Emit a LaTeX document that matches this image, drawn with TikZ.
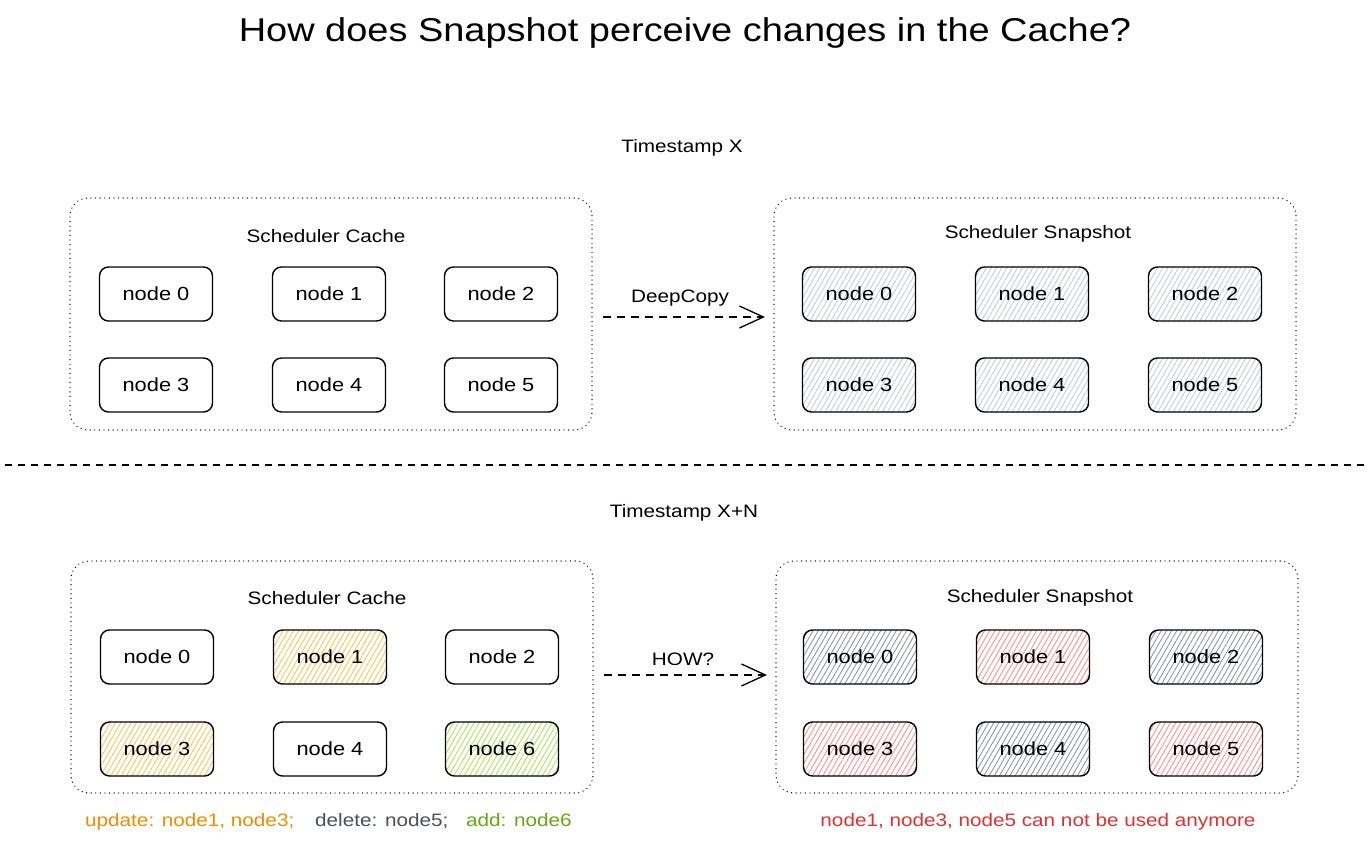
\documentclass[tikz,border=0pt]{standalone}
\usepackage{fontspec}
\setmainfont[FakeStretch=1.15]{Liberation Sans}
\usetikzlibrary{arrows.meta,patterns.meta}
\definecolor{hgrayL}{HTML}{C4C9CE}
\definecolor{hgrayD}{HTML}{8A8F94}
\definecolor{hred}{HTML}{FF8787}
\definecolor{horange}{HTML}{FFC04A}
\definecolor{hgreen}{HTML}{A9E34B}
\definecolor{torange}{HTML}{F08C00}
\definecolor{tgray}{HTML}{495057}
\definecolor{tgreen}{HTML}{66A80F}
\definecolor{tred}{HTML}{E03131}
\begin{document}
\begin{tikzpicture}[x=1pt,y=-1pt,
  nbox/.style={draw=black, line width=1.4pt, rounded corners=9pt,
    minimum width=113pt, minimum height=54pt, inner sep=0pt,
    font=\fontsize{19}{21}\selectfont},
  hatch/.style={pattern={Lines[angle=60,distance=4.5pt,line width=0.8pt]}, pattern color=#1},
  container/.style={draw=black, line width=1.3pt, rounded corners=18pt,
    dash pattern=on 0.1pt off 4.5pt, line cap=round,
    minimum width=522pt, minimum height=232pt, inner sep=0pt},
  lbl/.style={font=\fontsize{18}{21}\selectfont},
  flow/.style={line width=1.3pt, dash pattern=on 8pt off 6pt,
    -{Straight Barb[length=24pt, width=22pt, line width=1.3pt]}},
  divider/.style={line width=1.3pt, dash pattern=on 7pt off 6pt}
]
\useasboundingbox[fill=white] (0,0) rectangle (1371,842);

% title
\node[font=\fontsize{33}{40}\selectfont] (title) at (685,33) {How does Snapshot perceive changes in the Cache?};

% ---------- Timestamp X ----------
\node[lbl] (tsx) at (682,148) {Timestamp X};

\node[container] (cacheA) at (331,314) {};
\node[lbl] (cacheAlbl) at (326,236) {Scheduler Cache};
\node[nbox] (a0) at (156,294) {node 0};
\node[nbox] (a1) at (329,294) {node 1};
\node[nbox] (a2) at (501,294) {node 2};
\node[nbox] (a3) at (156,385) {node 3};
\node[nbox] (a4) at (329,385) {node 4};
\node[nbox] (a5) at (501,385) {node 5};

\node[container] (snapA) at (1035,314) {};
\node[lbl] (snapAlbl) at (1038,234) {Scheduler Snapshot};
\node[nbox,hatch=hgrayL] (b0) at (859,294) {node 0};
\node[nbox,hatch=hgrayL] (b1) at (1032,294) {node 1};
\node[nbox,hatch=hgrayL] (b2) at (1205,294) {node 2};
\node[nbox,hatch=hgrayL] (b3) at (859,385) {node 3};
\node[nbox,hatch=hgrayL] (b4) at (1032,385) {node 4};
\node[nbox,hatch=hgrayL] (b5) at (1205,385) {node 5};

\coordinate (dcs) at (603,317);
\coordinate (dce) at (765,317);
\draw[flow] (dcs) -- (dce);
\node[lbl] (dclbl) at (680,298) {DeepCopy};

% divider
\coordinate (dvl) at (5,465);
\coordinate (dvr) at (1366,465);
\draw[divider] (dvl) -- (dvr);

% ---------- Timestamp X+N ----------
\node[lbl] (tsxn) at (684,513) {Timestamp X+N};

\node[container] (cacheB) at (332,677) {};
\node[lbl] (cacheBlbl) at (327,598) {Scheduler Cache};
\node[nbox] (c0) at (157,657) {node 0};
\node[nbox,hatch=horange] (c1) at (330,657) {node 1};
\node[nbox] (c2) at (502,657) {node 2};
\node[nbox,hatch=horange] (c3) at (157,749) {node 3};
\node[nbox] (c4) at (330,749) {node 4};
\node[nbox,hatch=hgreen] (c6) at (502,749) {node 6};

\node[container] (snapB) at (1037,677) {};
\node[lbl] (snapBlbl) at (1040,598) {Scheduler Snapshot};
\node[nbox,hatch=hgrayD] (d0) at (860,657) {node 0};
\node[nbox,hatch=hred] (d1) at (1033,657) {node 1};
\node[nbox,hatch=hgrayD] (d2) at (1206,657) {node 2};
\node[nbox,hatch=hred] (d3) at (860,749) {node 3};
\node[nbox,hatch=hgrayD] (d4) at (1033,749) {node 4};
\node[nbox,hatch=hred] (d5) at (1206,749) {node 5};

\coordinate (hws) at (604,675);
\coordinate (hwe) at (767,675);
\draw[flow] (hws) -- (hwe);
\node[lbl] (hwlbl) at (683,659) {HOW?};

% bottom notes
\node[lbl, text=torange, anchor=base west, inner sep=0pt] (upd) at (85,826) {update: node1, node3;};
\node[lbl, text=tgray, anchor=base west, inner sep=0pt] (del) at (315,826) {delete: node5;};
\node[lbl, text=tgreen, anchor=base west, inner sep=0pt] (add) at (466,826) {add: node6};
\node[lbl, text=tred, anchor=base, inner sep=0pt] (note) at (1038,826) {node1, node3, node5 can not be used anymore};
\end{tikzpicture}
\end{document}
